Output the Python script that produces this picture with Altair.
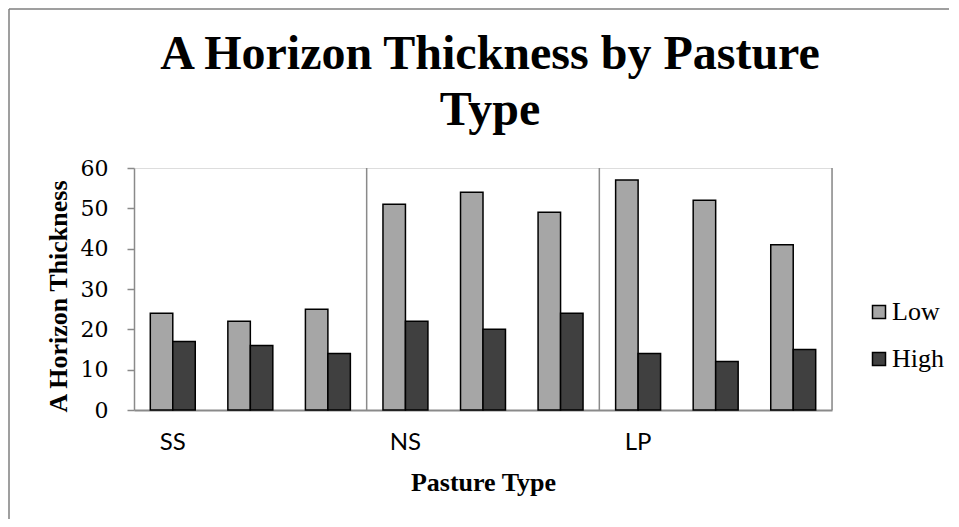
import altair as alt
import pandas as pd

# ---- data ----
pasture_types = ["SS", "NS", "LP"]
replicates = [1, 2, 3]
low_values = [24, 22, 25, 51, 54, 49, 57, 52, 41]
high_values = [17, 16, 14, 22, 20, 24, 14, 12, 15]
series_names = ["Low", "High"]
series_colors = ["#a6a6a6", "#404040"]
y_ticks = [0, 10, 20, 30, 40, 50, 60]

keys = [f"{p}{r}" for p in pasture_types for r in replicates]
rows = []
for i, k in enumerate(keys):
    rows.append({"key": k, "series": "Low", "value": low_values[i]})
    rows.append({"key": k, "series": "High", "value": high_values[i]})
df = pd.DataFrame(rows)

sep_df = pd.DataFrame({"key": [f"{p}{replicates[-1]}" for p in pasture_types]})
frame_df = pd.DataFrame({"a": [0]})

W, H = 698, 242
label_expr = ("indexof(['SS1','NS1','LP1'], datum.value) >= 0 ? "
              "slice(datum.value, 0, 2) : ''")

x_enc = alt.X(
    "key:N",
    sort=keys,
    scale=alt.Scale(domain=keys, paddingInner=0, paddingOuter=0),
    axis=alt.Axis(
        title="Pasture Type",
        labelExpr=label_expr,
        labelAngle=0,
        labelAlign="center",
        labelFont="Lato",
        labelFontSize=24,
        labelColor="black",
        labelPadding=32,
        ticks=False,
        domainColor="#8a8a8a",
        domainWidth=2,
        titleFont="Liberation Serif",
        titleFontSize=26,
        titleFontWeight="bold",
        titleColor="black",
        titlePadding=15,
        grid=False,
    ),
)

y_scale = alt.Scale(domain=[0, 60], nice=False)

bars = alt.Chart(df).mark_bar(stroke="black", strokeWidth=1.5).encode(
    x=x_enc,
    xOffset=alt.XOffset(
        "series:N",
        sort=series_names,
        scale=alt.Scale(domain=series_names, paddingInner=0, paddingOuter=0.725),
    ),
    y=alt.Y(
        "value:Q",
        scale=y_scale,
        axis=alt.Axis(
            title="A Horizon Thickness",
            values=y_ticks,
            grid=False,
            labelFont="DejaVu Serif",
            labelFontSize=22,
            labelColor="black",
            labelPadding=19,
            tickSize=7,
            tickColor="#8a8a8a",
            tickWidth=1.5,
            domainColor="#8a8a8a",
            domainWidth=1.5,
            titleFont="Liberation Serif",
            titleFontSize=26,
            titleFontWeight="bold",
            titleColor="black",
            titleAngle=270,
            titleAlign="center",
            titleBaseline="alphabetic",
            titleX=-68,
            titleY=128,
        ),
    ),
    color=alt.Color(
        "series:N",
        sort=series_names,
        scale=alt.Scale(domain=series_names, range=series_colors),
        legend=alt.Legend(
            title=None,
            orient="none",
            legendX=732,
            legendY=131,
            padding=0,
            symbolType="square",
            symbolSize=169,
            symbolStrokeColor="black",
            symbolStrokeWidth=1.5,
            labelFont="Liberation Serif",
            labelFontSize=26,
            labelColor="black",
            labelOffset=0,
            rowPadding=21,
        ),
    ),
)

seps = alt.Chart(sep_df).mark_rule(color="#8a8a8a", strokeWidth=1.5).encode(
    x=alt.X("key:N", sort=keys, bandPosition=1),
    y=alt.datum(60, scale=y_scale),
    y2=alt.datum(0),
)

# outer chart frame (only its left and top edges are inside the picture)
frame_left = alt.Chart(frame_df).mark_rule(color="#7f7f7f", strokeWidth=1.5).encode(
    x=alt.value(-125), y=alt.value(-159), y2=alt.value(400)
)
frame_top = alt.Chart(frame_df).mark_rule(color="#7f7f7f", strokeWidth=1.5).encode(
    x=alt.value(-125), x2=alt.value(820), y=alt.value(-159)
)

chart = alt.layer(frame_left, frame_top, seps, bars).properties(
    width=W,
    height=H,
    autosize=alt.AutoSizeParams(type="none"),
    padding={"left": 126, "top": 160, "right": 117, "bottom": 109},
    title=alt.TitleParams(
        text=["A Horizon Thickness by Pasture", "Type"],
        font="Liberation Serif",
        fontSize=48,
        fontWeight="bold",
        color="black",
        lineHeight=56,
        anchor="middle",
        dx=7,
        dy=127,
        offset=0,
    ),
).configure_view(stroke=None).configure(background="white")

chart.save("out.html", embed_options={"renderer": "svg", "actions": False})
